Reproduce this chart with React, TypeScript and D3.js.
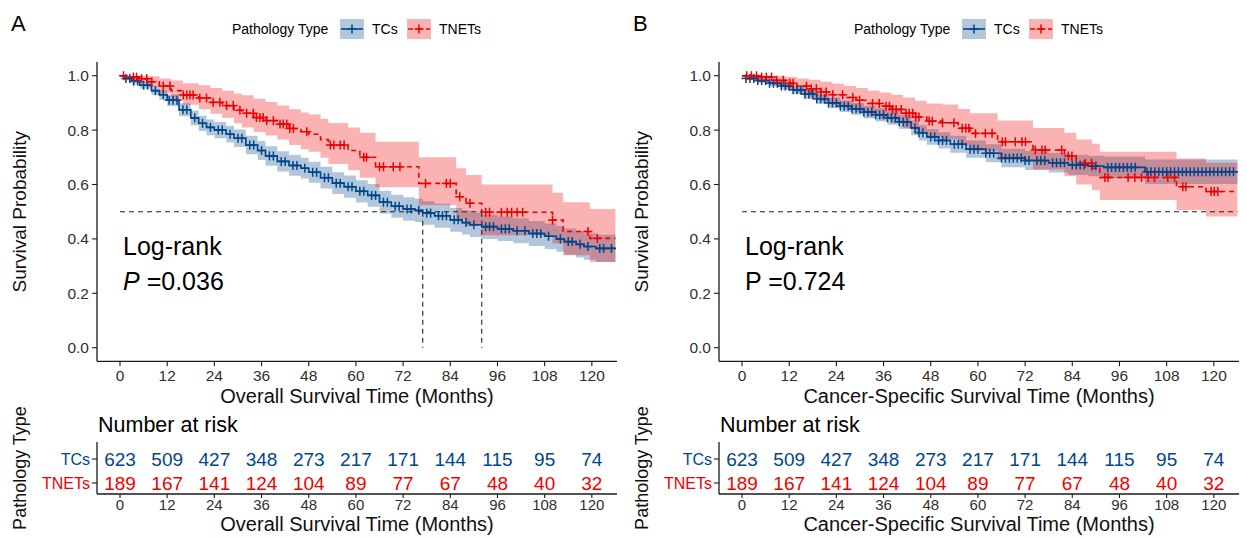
import React from "react";
import * as d3 from "d3";

// ---------------- data ----------------
const TIME_TICKS = [0, 12, 24, 36, 48, 60, 72, 84, 96, 108, 120];
const SURV_TICKS = [0, 0.2, 0.4, 0.6, 0.8, 1.0];
const GROUPS = ["TCs", "TNETs"];
const RISK_TCS = [623, 509, 427, 348, 273, 217, 171, 144, 115, 95, 74];
const RISK_TNETS = [189, 167, 141, 124, 104, 89, 77, 67, 48, 40, 32];
const FOLLOW_UP_END = 126;

// Panel A: overall survival
const OS_TCS_TIME = [0,1,3,5,8,10,12,15,18,20,22,24,27,29,32,35,37,40,43,46,48,51,54,57,60,63,66,69,72,75,77,80,84,87,89,92,96,100,104,108,111,113,116,118,121];
const OS_TCS_SURV = [1,0.99,0.98,0.965,0.945,0.93,0.91,0.875,0.845,0.825,0.81,0.8,0.785,0.77,0.745,0.725,0.705,0.685,0.67,0.66,0.645,0.625,0.605,0.592,0.575,0.56,0.535,0.52,0.51,0.505,0.495,0.485,0.47,0.46,0.452,0.445,0.437,0.43,0.42,0.41,0.4,0.39,0.38,0.372,0.365];
const OS_TCS_LOWER = [1,0.982,0.969,0.952,0.929,0.912,0.889,0.851,0.818,0.797,0.781,0.77,0.754,0.738,0.711,0.69,0.669,0.648,0.632,0.622,0.606,0.585,0.565,0.551,0.534,0.518,0.493,0.478,0.467,0.462,0.452,0.441,0.426,0.416,0.407,0.4,0.392,0.384,0.374,0.363,0.353,0.342,0.332,0.323,0.315];
const OS_TCS_UPPER = [1,0.998,0.991,0.978,0.961,0.948,0.931,0.899,0.872,0.853,0.839,0.83,0.816,0.802,0.779,0.76,0.741,0.722,0.708,0.698,0.684,0.665,0.645,0.633,0.616,0.602,0.577,0.562,0.553,0.548,0.538,0.529,0.514,0.504,0.497,0.49,0.482,0.476,0.466,0.457,0.447,0.438,0.428,0.421,0.415];
const OS_TCS_CENSOR = [1.5,2.5,3.5,4.5,6,7,9,11,12.5,13.5,14.5,16,17,19,21,23,25,26,28,30,31,33,34,36,38,39,41,42,44,45,47,49,50,52,53,55,56,58,59,61,62,64,65,67,68,70,71,73,74,76,78,79,81,82,83,85,86,88,90,93,94,95,97,98,99,101,103,105,106,107,109,112,114,115,117,119,122,123,125];

const OS_TNETS_TIME = [0,2,5,7,10,13,16,20,23,26,29,31,34,37,40,43,46,48,51,53,58,61,65,76,85.5,88,92,110,112.7,119.5];
const OS_TNETS_SURV = [1,0.995,0.989,0.978,0.962,0.945,0.929,0.918,0.902,0.89,0.873,0.862,0.846,0.835,0.822,0.806,0.794,0.785,0.765,0.745,0.725,0.7,0.665,0.604,0.555,0.531,0.498,0.469,0.427,0.402];
const OS_TNETS_LOWER = [1,0.985,0.975,0.958,0.935,0.912,0.893,0.878,0.86,0.845,0.825,0.81,0.793,0.78,0.765,0.745,0.73,0.72,0.698,0.675,0.652,0.625,0.59,0.525,0.472,0.447,0.413,0.383,0.34,0.315];
const OS_TNETS_UPPER = [1,1,1,0.998,0.99,0.982,0.972,0.965,0.955,0.945,0.935,0.928,0.915,0.903,0.89,0.877,0.865,0.857,0.842,0.826,0.81,0.79,0.757,0.7,0.66,0.635,0.6,0.57,0.535,0.51];
const OS_TNETS_CENSOR = [0.9,3.4,4.2,5.5,6.8,8.1,11,12.7,16.1,17,17.8,18.6,20.3,22,23.7,25.4,27.1,28.8,30.5,32.2,33.9,34.7,35.6,36.4,37.3,39,40.7,41.5,42.4,43.2,44.1,47.5,53.5,54.4,56,57,62,62.7,66,67,69.5,71.2,77.7,83,84,86.4,89,93,94,97,98.5,99.6,101,102.4,110,119,121.4];

// Panel B: cancer-specific survival
const CSS_TCS_TIME = [0,1,4,7,10,13,16,19,22,25,28,31,34,37,40,43,45,47,50,53,57,62,66,72,78,83,88,92,102.5];
const CSS_TCS_SURV = [1,0.99,0.982,0.972,0.962,0.948,0.932,0.915,0.9,0.888,0.878,0.866,0.856,0.845,0.83,0.808,0.79,0.775,0.762,0.748,0.73,0.715,0.697,0.688,0.68,0.672,0.668,0.663,0.647];
const CSS_TCS_LOWER = [1,0.984,0.973,0.961,0.949,0.933,0.915,0.896,0.88,0.867,0.856,0.843,0.832,0.82,0.804,0.781,0.762,0.746,0.732,0.717,0.698,0.682,0.663,0.653,0.644,0.635,0.63,0.623,0.602];
const CSS_TCS_UPPER = [1,0.996,0.991,0.983,0.975,0.963,0.949,0.934,0.92,0.909,0.9,0.889,0.88,0.87,0.856,0.835,0.818,0.804,0.792,0.779,0.762,0.748,0.731,0.723,0.716,0.709,0.706,0.703,0.692];
const CSS_TCS_CENSOR = [1,2,3,4,5,6,7,8,9,10,11,12,13,14,15,16,17,18,19,20,21,22,23,24,25,26,27,28,29,30,31,32,33,34,35,36,37,38,39,40,41,42,44,45,46,48,49,50,51,52,54,55,56,58,59,60,62,63,64,66,67,68,69,70,71,72,73,75,76,77,79,80,81,82,84,85,86,87,89,90,93,94,95,96,97,98,99,100,103,104,105,106,107,108,109,110,111,112,113,114,115,116,117,118,119,120,121,122,123,124,125];

const CSS_TNETS_TIME = [0,4,8,11,14,17,20,23,26,29,32,35,38,41,44,47,51,55,58,65,74,82,85,89,91,110.5,118];
const CSS_TNETS_SURV = [1,0.995,0.983,0.972,0.962,0.952,0.94,0.93,0.92,0.91,0.898,0.888,0.876,0.862,0.848,0.833,0.827,0.807,0.788,0.757,0.727,0.705,0.678,0.66,0.626,0.592,0.574];
const CSS_TNETS_LOWER = [1,0.985,0.965,0.948,0.935,0.92,0.905,0.893,0.88,0.867,0.852,0.84,0.826,0.808,0.792,0.775,0.767,0.745,0.724,0.69,0.655,0.63,0.6,0.58,0.543,0.506,0.482];
const CSS_TNETS_UPPER = [1,1,1,0.996,0.99,0.985,0.978,0.97,0.962,0.955,0.946,0.938,0.93,0.92,0.908,0.898,0.894,0.878,0.862,0.835,0.808,0.79,0.765,0.75,0.72,0.696,0.68];
const CSS_TNETS_CENSOR = [1.2,2.4,3.7,5,6.2,7.5,8.8,10.5,12.2,13,16.4,17.6,18.9,20.1,21.4,23.1,25.6,28.2,29.9,33.2,34.9,36.6,37.5,38.3,39.2,40.5,41.7,42.5,43.4,44.2,45,47.6,48.4,51,53.9,56,56.9,57.7,59.4,61.9,63.6,66.2,67,69.5,71.2,72.1,74.6,76.3,77.1,81.3,83,83.9,87.3,88.9,92.3,93.1,98.2,99.9,101.6,103.3,104.9,108.3,110,112.1,112.9,119.3,120.1,121];

// ---------------- style ----------------
const FONT = '"Liberation Sans", Arial, Helvetica, sans-serif';
const BLUE = "#00468B";
const RED = "#ED0000";
const AXIS = "#1a1a1a";
const TICK_TXT = "#303030";

type Curve = { time: number[]; surv: number[]; lower: number[]; upper: number[]; censor: number[]; color: string; dash?: string };

const x0 = d3.scaleLinear().domain([-5.85, 126.4]).range([97, 617]);
const y = d3.scaleLinear().domain([-0.05, 1.05]).range([361.3, 62.1]);
const yRisk = d3.scalePoint<string>().domain(GROUPS).range([459, 483]);

function stepAt(times: number[], vals: number[], t: number) {
  let v = vals[0];
  for (let i = 0; i < times.length; i++) if (times[i] <= t) v = vals[i];
  return v;
}

function median(c: Curve) {
  for (let i = 0; i < c.time.length; i++) if (c.surv[i] <= 0.5) return c.time[i];
  return null;
}

function Plus({ cx, cy, color }: { cx: number; cy: number; color: string }) {
  const h = 4.5;
  return (
    <g stroke={color} strokeWidth={1.5}>
      <line x1={cx - h} x2={cx + h} y1={cy} y2={cy} />
      <line x1={cx} x2={cx} y1={cy - h} y2={cy + h} />
    </g>
  );
}

function Panel({ dx, label, xTitle, curves, pLabel, pItalic }: { dx: number; label: string; xTitle: string; curves: Curve[]; pLabel: string; pItalic: boolean }) {
  const x = (t: number) => x0(t) + dx;
  const line = d3.line<[number, number]>().x((d) => x(d[0])).y((d) => y(d[1])).curve(d3.curveStepAfter);
  const area = d3
    .area<[number, number, number]>()
    .x((d) => x(d[0]))
    .y0((d) => y(d[1]))
    .y1((d) => y(d[2]))
    .curve(d3.curveStepAfter);
  const pts = (c: Curve) => {
    const p: [number, number][] = c.time.map((t, i) => [t, c.surv[i]]);
    p.push([FOLLOW_UP_END, c.surv[c.surv.length - 1]]);
    return p;
  };
  const band = (c: Curve) => {
    const p: [number, number, number][] = c.time.map((t, i) => [t, c.lower[i], c.upper[i]]);
    p.push([FOLLOW_UP_END, c.lower[c.lower.length - 1], c.upper[c.upper.length - 1]]);
    return p;
  };
  const meds = curves.map(median);
  const reached = meds.filter((m) => m !== null) as number[];
  const hEnd = reached.length === curves.length ? Math.max(...reached) : FOLLOW_UP_END;
  const left = x0.range()[0] + dx;
  const right = x0.range()[1] + dx;
  const top = y.range()[1];
  const bottom = y.range()[0];
  const riskTop = 442;
  const riskBottom = 494;
  const legendX = 232 + dx;

  return (
    <g fontFamily={FONT}>
      <text x={11 + dx} y={31} fontSize={22} fill="#000">{label}</text>
      {/* legend */}
      <g>
        <text x={legendX} y={34} fontSize={14} fill="#000">Pathology Type</text>
        {curves.map((c, i) => {
          const kx = legendX + 108 + i * 67;
          return (
            <g key={i}>
              <rect x={kx} y={19} width={24} height={20} fill={c.color} fillOpacity={0.3} />
              <line x1={kx + 1} x2={kx + 23} y1={29} y2={29} stroke={c.color} strokeWidth={1.6} strokeDasharray={c.dash} />
              <Plus cx={kx + 12} cy={29} color={c.color} />
              <text x={kx + 32} y={34} fontSize={14} fill="#000">{GROUPS[i]}</text>
            </g>
          );
        })}
      </g>
      {/* bands */}
      {curves.map((c, i) => (
        <path key={"b" + i} d={area(band(c)) || ""} fill={c.color} fillOpacity={0.3} stroke="none" />
      ))}
      {/* median lines */}
      <line x1={x(0)} x2={x(hEnd)} y1={y(0.5)} y2={y(0.5)} stroke="#222" strokeWidth={1.1} strokeDasharray="5,4" />
      {meds.map((m, i) =>
        m !== null ? <line key={"m" + i} x1={x(m)} x2={x(m)} y1={y(0.5)} y2={y(0)} stroke="#222" strokeWidth={1.1} strokeDasharray="5,4" /> : null
      )}
      {/* curves */}
      {curves.map((c, i) => (
        <path key={"l" + i} d={line(pts(c)) || ""} fill="none" stroke={c.color} strokeWidth={1.6} strokeDasharray={c.dash} />
      ))}
      {curves.map((c, i) => (
        <g key={"c" + i}>
          {c.censor.map((t, j) => (
            <Plus key={j} cx={x(t)} cy={y(stepAt(c.time, c.surv, t))} color={c.color} />
          ))}
        </g>
      ))}
      {/* axes */}
      <line x1={left} x2={left} y1={top} y2={bottom} stroke={AXIS} strokeWidth={1.3} />
      <line x1={left} x2={right} y1={bottom} y2={bottom} stroke={AXIS} strokeWidth={1.3} />
      {SURV_TICKS.map((v) => (
        <g key={v}>
          <line x1={left - 5} x2={left} y1={y(v)} y2={y(v)} stroke={AXIS} strokeWidth={1.1} />
          <text x={left - 8} y={y(v) + 5.5} fontSize={15.5} textAnchor="end" fill={TICK_TXT}>{v.toFixed(1)}</text>
        </g>
      ))}
      {TIME_TICKS.map((t) => (
        <g key={t}>
          <line x1={x(t)} x2={x(t)} y1={bottom} y2={bottom + 5} stroke={AXIS} strokeWidth={1.1} />
          <text x={x(t)} y={380.5} fontSize={15.5} textAnchor="middle" fill={TICK_TXT}>{t}</text>
        </g>
      ))}
      <text x={(left + right) / 2} y={403} fontSize={20} textAnchor="middle" fill="#111">{xTitle}</text>
      <text transform={`translate(${26 + dx},${(top + bottom) / 2}) rotate(-90)`} fontSize={19} textAnchor="middle" fill="#111">Survival Probability</text>
      {/* log-rank */}
      <text x={123 + dx} y={255} fontSize={25} fill="#000">Log-rank</text>
      <text x={123 + dx} y={290} fontSize={25} fill="#000">
        <tspan fontStyle={pItalic ? "italic" : "normal"}>P</tspan>
        <tspan> =</tspan>
        <tspan>{pLabel}</tspan>
      </text>
      {/* risk table */}
      <text x={left + 1} y={432} fontSize={21.5} fill="#000">Number at risk</text>
      <line x1={left} x2={left} y1={riskTop} y2={riskBottom} stroke={AXIS} strokeWidth={1.3} />
      <line x1={left} x2={right} y1={riskBottom} y2={riskBottom} stroke={AXIS} strokeWidth={1.3} />
      {GROUPS.map((g, i) => (
        <g key={g}>
          <line x1={left - 5} x2={left} y1={yRisk(g)!} y2={yRisk(g)!} stroke={AXIS} strokeWidth={1.1} />
          <text x={left - 7} y={yRisk(g)! + 5.5} fontSize={16} textAnchor="end" fill={curves[i].color}>{g}</text>
        </g>
      ))}
      {TIME_TICKS.map((t, j) => (
        <g key={"r" + t}>
          <text x={x(t)} y={yRisk("TCs")! + 7} fontSize={19} textAnchor="middle" fill={BLUE}>{RISK_TCS[j]}</text>
          <text x={x(t)} y={yRisk("TNETs")! + 7} fontSize={19} textAnchor="middle" fill={RED}>{RISK_TNETS[j]}</text>
          <line x1={x(t)} x2={x(t)} y1={riskBottom} y2={riskBottom + 4} stroke={AXIS} strokeWidth={1.1} />
          <text x={x(t)} y={510} fontSize={15} textAnchor="middle" fill={TICK_TXT}>{t}</text>
        </g>
      ))}
      <text x={(left + right) / 2} y={531} fontSize={20} textAnchor="middle" fill="#111">{xTitle}</text>
      <text transform={`translate(${26 + dx},${(riskTop + riskBottom) / 2}) rotate(-90)`} fontSize={18} textAnchor="middle" fill="#111">Pathology Type</text>
    </g>
  );
}

export default function App() {
  const osCurves: Curve[] = [
    { time: OS_TCS_TIME, surv: OS_TCS_SURV, lower: OS_TCS_LOWER, upper: OS_TCS_UPPER, censor: OS_TCS_CENSOR, color: BLUE },
    { time: OS_TNETS_TIME, surv: OS_TNETS_SURV, lower: OS_TNETS_LOWER, upper: OS_TNETS_UPPER, censor: OS_TNETS_CENSOR, color: RED, dash: "5,4" },
  ];
  const cssCurves: Curve[] = [
    { time: CSS_TCS_TIME, surv: CSS_TCS_SURV, lower: CSS_TCS_LOWER, upper: CSS_TCS_UPPER, censor: CSS_TCS_CENSOR, color: BLUE },
    { time: CSS_TNETS_TIME, surv: CSS_TNETS_SURV, lower: CSS_TNETS_LOWER, upper: CSS_TNETS_UPPER, censor: CSS_TNETS_CENSOR, color: RED, dash: "5,4" },
  ];
  return (
    <svg width={1247} height={538} style={{ position: "absolute", left: 0, top: 0, background: "#fff" }}>
      <rect width={1247} height={538} fill="#fff" />
      <Panel dx={0} label="A" xTitle="Overall Survival Time (Months)" curves={osCurves} pLabel="0.036" pItalic={true} />
      <Panel dx={622} label="B" xTitle="Cancer-Specific Survival Time (Months)" curves={cssCurves} pLabel="0.724" pItalic={false} />
    </svg>
  );
}
